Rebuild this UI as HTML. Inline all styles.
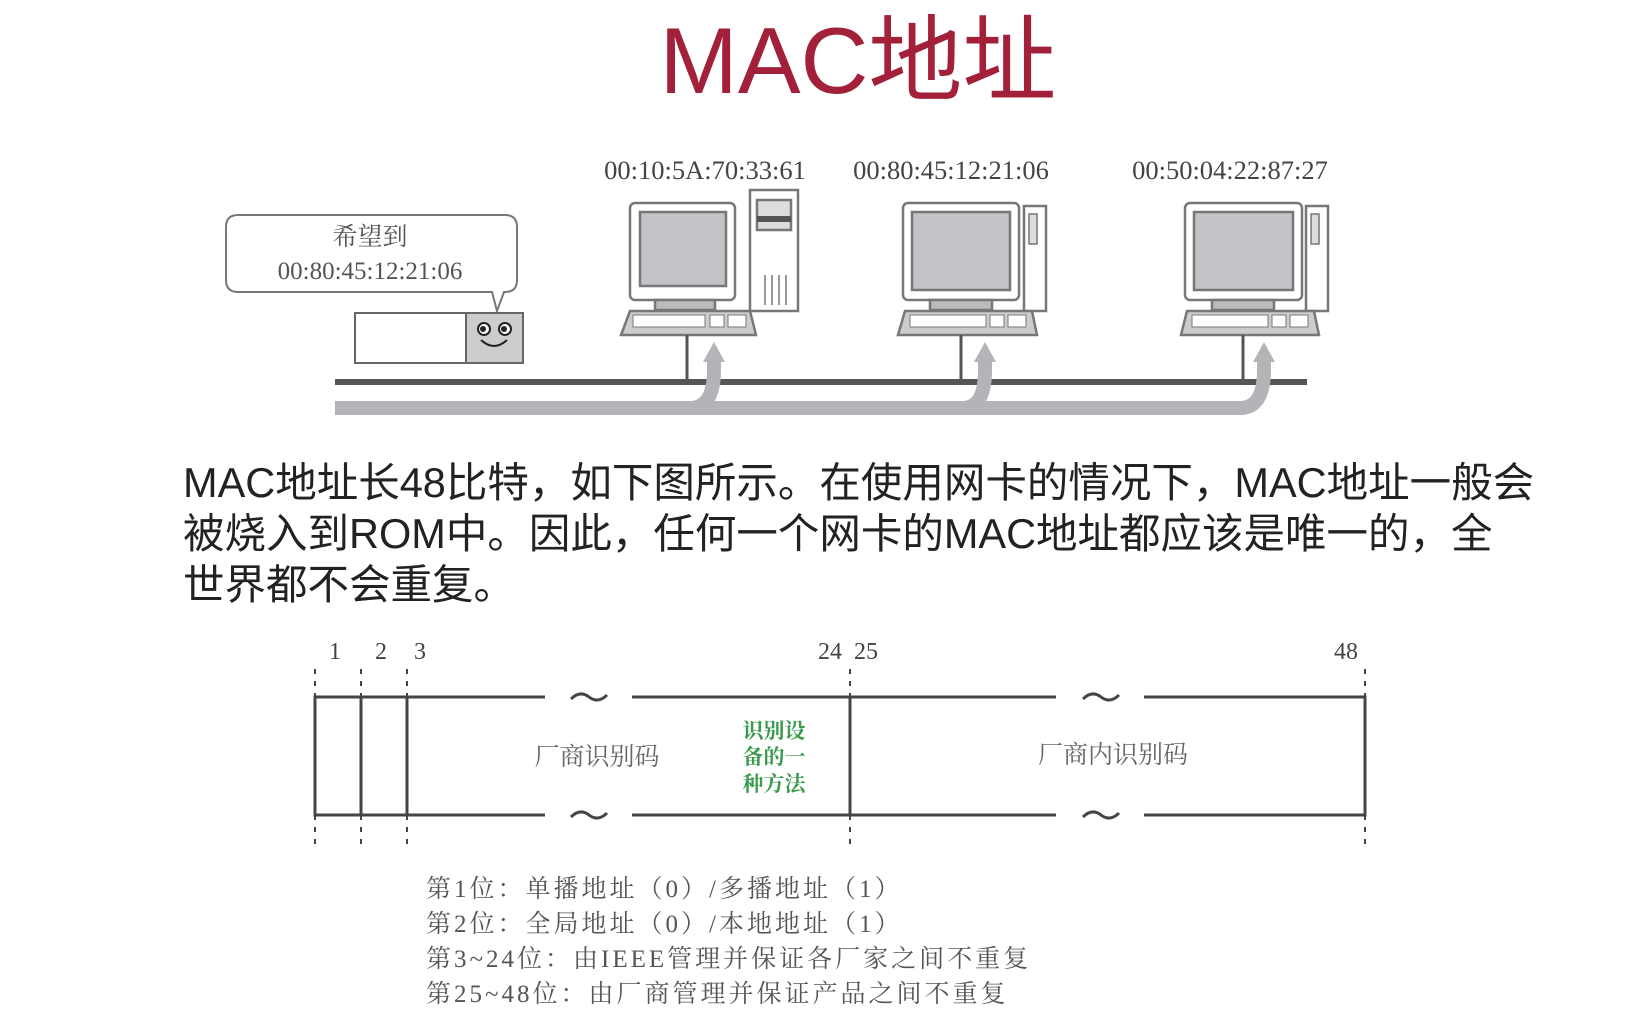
<!DOCTYPE html>
<html><head><meta charset="utf-8"><style>
html,body{margin:0;padding:0;background:#fff;}
body{width:1642px;height:1028px;overflow:hidden;position:relative;}
svg{position:absolute;left:0;top:0;}
.para{position:absolute;left:183px;top:457px;font-family:"Liberation Sans","Noto Sans CJK SC",sans-serif;font-size:41.5px;line-height:51px;color:#222;white-space:nowrap;}
</style></head><body>
<svg width="1642" height="1028" viewBox="0 0 1642 1028">
<text x="858" y="93" text-anchor="middle" font-family="Liberation Sans,'Noto Sans CJK SC',sans-serif" font-size="94" fill="#a3203a">MAC地址</text>
<g font-family="Liberation Serif,'Noto Serif CJK SC',serif" font-size="26.5" fill="#444" text-anchor="middle">
<text x="705" y="179">00:10:5A:70:33:61</text>
<text x="951" y="179">00:80:45:12:21:06</text>
<text x="1230" y="179">00:50:04:22:87:27</text>
</g>
<path d="M238 215 H505 Q517 215 517 227 V280 Q517 292 505 292 H504 L497 311 L492 292 H238 Q226 292 226 280 V227 Q226 215 238 215 Z" fill="#fff" stroke="#777" stroke-width="2"/>
<g font-family="Liberation Serif,'Noto Serif CJK SC',serif" font-size="25" fill="#555" text-anchor="middle">
<text x="370" y="245">希望到</text>
<text x="370" y="279">00:80:45:12:21:06</text>
</g>
<rect x="355" y="313" width="168" height="50" fill="#fff" stroke="#666" stroke-width="2"/>
<rect x="466" y="313" width="57" height="50" fill="#ccc" stroke="#666" stroke-width="2"/>
<circle cx="484" cy="329" r="6" fill="#fff" stroke="#222" stroke-width="2"/><circle cx="483" cy="329" r="3" fill="#222"/>
<circle cx="505" cy="329" r="6" fill="#fff" stroke="#222" stroke-width="2"/><circle cx="504" cy="329" r="3" fill="#222"/>
<path d="M481 340 Q494 352 507 340" fill="none" stroke="#222" stroke-width="2"/>
<g stroke="#777" stroke-width="2.5">
 <rect x="750" y="190" width="48" height="121" fill="#fff"/>
 <rect x="757" y="200" width="34" height="30" fill="#ddd"/>
 <rect x="757" y="216" width="34" height="6" fill="#555" stroke="none"/>
 <path d="M765 275 V305 M772 275 V305 M779 275 V305 M786 275 V305" stroke-width="1.5"/>
 <rect x="630" y="203" width="105" height="97" rx="5" fill="#fff"/>
 <rect x="640" y="212" width="86" height="74" fill="#c4c4c8"/>
 <rect x="655" y="300" width="60" height="10" fill="#bbb"/>
 <path d="M630 311 H750 L756 335 H621 Z" fill="#ccc"/>
 <rect x="633" y="315" width="72" height="12" fill="#fff" stroke-width="1"/>
 <rect x="710" y="315" width="14" height="12" fill="#fff" stroke-width="1"/>
 <rect x="728" y="315" width="18" height="12" fill="#fff" stroke-width="1"/>
 <rect x="1024" y="206" width="22" height="105" fill="#fff"/>
 <rect x="1029" y="214" width="8" height="30" fill="#ddd" stroke-width="1.5"/>
 <rect x="903" y="203" width="116" height="97" rx="5" fill="#fff"/>
 <rect x="912" y="212" width="98" height="78" fill="#c4c4c8"/>
 <rect x="930" y="300" width="62" height="10" fill="#bbb"/>
 <path d="M905 311 H1032 L1037 335 H898 Z" fill="#ccc"/>
 <rect x="910" y="315" width="76" height="12" fill="#fff" stroke-width="1"/>
 <rect x="990" y="315" width="14" height="12" fill="#fff" stroke-width="1"/>
 <rect x="1008" y="315" width="18" height="12" fill="#fff" stroke-width="1"/>
 <rect x="1306" y="206" width="22" height="105" fill="#fff"/>
 <rect x="1311" y="214" width="8" height="30" fill="#ddd" stroke-width="1.5"/>
 <rect x="1185" y="203" width="117" height="97" rx="5" fill="#fff"/>
 <rect x="1194" y="212" width="99" height="78" fill="#c4c4c8"/>
 <rect x="1212" y="300" width="62" height="10" fill="#bbb"/>
 <path d="M1187 311 H1314 L1319 335 H1181 Z" fill="#ccc"/>
 <rect x="1192" y="315" width="76" height="12" fill="#fff" stroke-width="1"/>
 <rect x="1272" y="315" width="14" height="12" fill="#fff" stroke-width="1"/>
 <rect x="1290" y="315" width="18" height="12" fill="#fff" stroke-width="1"/>
</g>
<g stroke="#555" stroke-width="3">
<line x1="687" y1="335" x2="687" y2="382"/><line x1="961" y1="335" x2="961" y2="382"/><line x1="1243" y1="335" x2="1243" y2="382"/>
</g>
<rect x="335" y="379" width="972" height="6" fill="#555"/>
<g fill="none" stroke="#b4b4b8" stroke-width="14">
<path d="M335 408 H1240 Q1264 408 1264 370 V356"/>
<path d="M690 408 Q714 408 714 370 V356"/>
<path d="M963 408 Q985 408 985 370 V356"/>
</g>
<g fill="#b4b4b8">
<path d="M703 362 L714 342 L725 362 Z"/>
<path d="M974 362 L985 342 L996 362 Z"/>
<path d="M1253 362 L1264 342 L1275 362 Z"/>
</g>
<g font-family="Liberation Serif,'Noto Serif CJK SC',serif" font-size="24" fill="#444">
<text x="335" y="659" text-anchor="middle">1</text>
<text x="381" y="659" text-anchor="middle">2</text>
<text x="420" y="659" text-anchor="middle">3</text>
<text x="830" y="659" text-anchor="middle">24</text>
<text x="866" y="659" text-anchor="middle">25</text>
<text x="1346" y="659" text-anchor="middle">48</text>
</g>
<g stroke="#444" stroke-width="2" stroke-dasharray="5,7" fill="none">
<line x1="315" y1="669" x2="315" y2="697"/><line x1="361" y1="669" x2="361" y2="697"/><line x1="407" y1="669" x2="407" y2="697"/><line x1="850" y1="669" x2="850" y2="697"/><line x1="1365" y1="669" x2="1365" y2="697"/>
<line x1="315" y1="815" x2="315" y2="849"/><line x1="361" y1="815" x2="361" y2="849"/><line x1="407" y1="815" x2="407" y2="849"/><line x1="850" y1="815" x2="850" y2="849"/><line x1="1365" y1="815" x2="1365" y2="849"/>
</g>
<g stroke="#444" stroke-width="3" fill="none">
<path d="M545 697 H315 V815 H545"/>
<path d="M632 697 H1056 M632 815 H1056"/>
<path d="M1144 697 H1365 V815 H1144"/>
<line x1="361" y1="697" x2="361" y2="815"/><line x1="407" y1="697" x2="407" y2="815"/><line x1="850" y1="697" x2="850" y2="815"/>
<path d="M571 699 Q580 690 589 697 T607 695"/><path d="M571 817 Q580 808 589 815 T607 813"/>
<path d="M1083 699 Q1092 690 1101 697 T1119 695"/><path d="M1083 817 Q1092 808 1101 815 T1119 813"/>
</g>
<g font-family="Liberation Serif,'Noto Serif CJK SC',serif" font-size="25" fill="#666" text-anchor="middle">
<text x="597" y="765">厂商识别码</text>
<text x="1113" y="763">厂商内识别码</text>
</g>
<g font-family="Liberation Serif,'Noto Serif CJK SC',serif" font-size="21" fill="#3a9a4e" text-anchor="middle" font-weight="bold">
<text x="774" y="738">识别设</text>
<text x="774" y="764">备的一</text>
<text x="774" y="791">种方法</text>
</g>
<g font-family="Liberation Serif,'Noto Serif CJK SC',serif" font-size="25" fill="#555" letter-spacing="3">
<text x="426" y="897">第1位：单播地址（0）/多播地址（1）</text>
<text x="426" y="932">第2位：全局地址（0）/本地地址（1）</text>
<text x="426" y="967">第3~24位：由IEEE管理并保证各厂家之间不重复</text>
<text x="426" y="1002">第25~48位：由厂商管理并保证产品之间不重复</text>
</g>
</svg>
<div class="para">MAC地址长48比特，如下图所示。在使用网卡的情况下，MAC地址一般会<br>被烧入到ROM中。因此，任何一个网卡的MAC地址都应该是唯一的，全<br>世界都不会重复。</div>
</body></html>
